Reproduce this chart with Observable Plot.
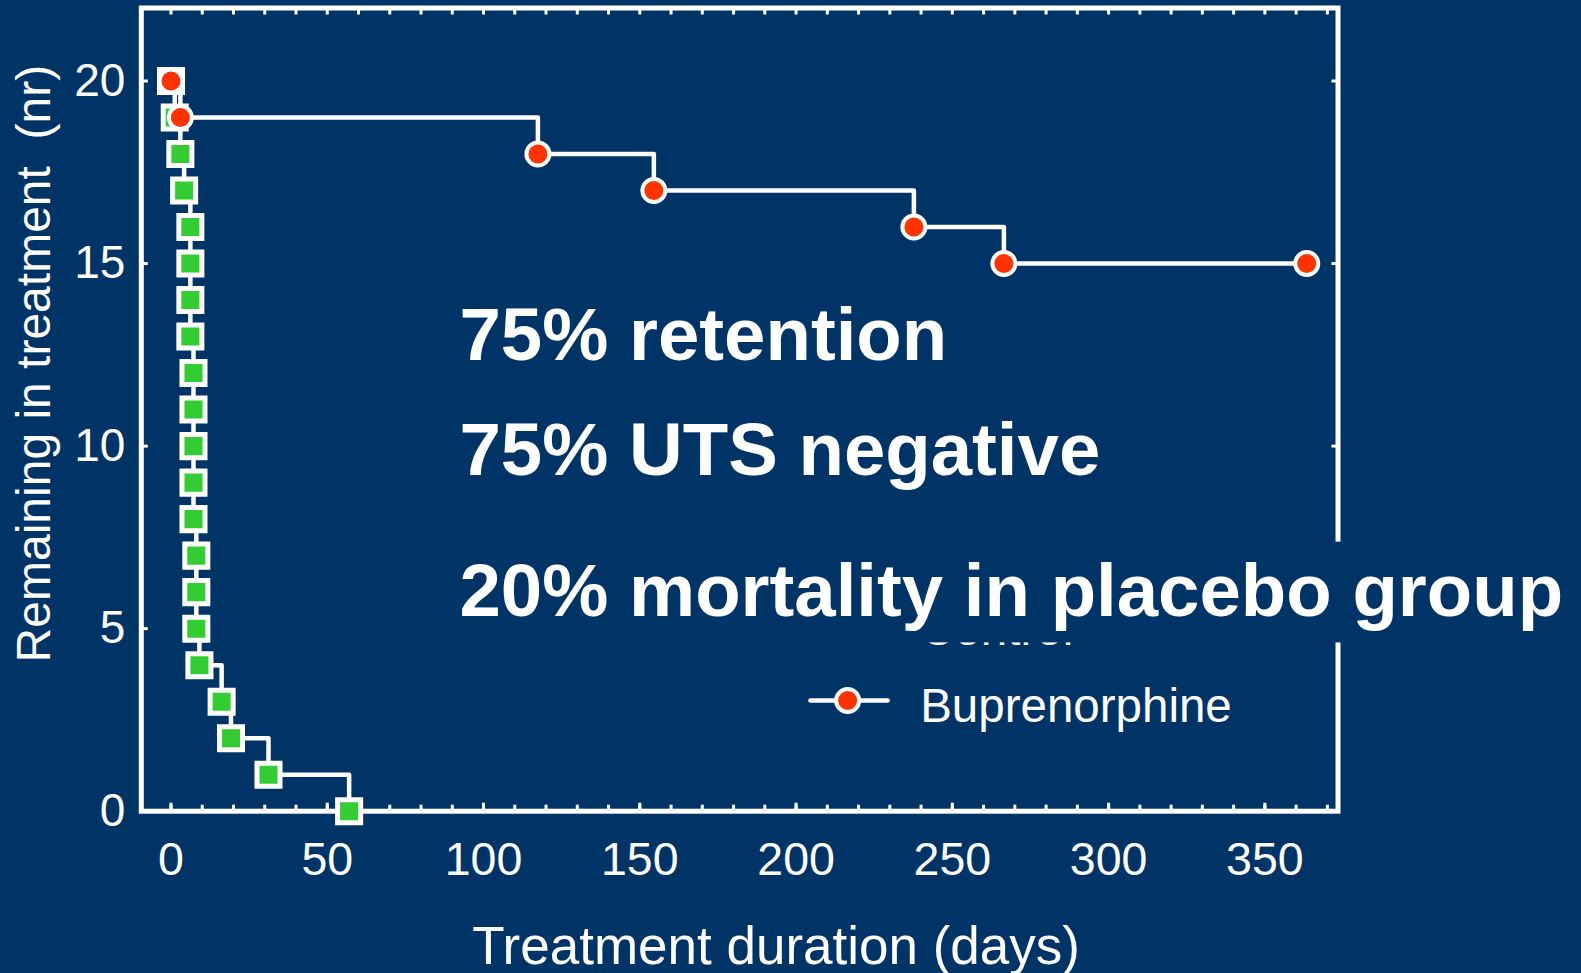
<!DOCTYPE html>
<html><head><meta charset="utf-8">
<script src="https://cdn.jsdelivr.net/npm/d3@7"></script>
<script src="https://cdn.jsdelivr.net/npm/@observablehq/plot@0.6"></script>
<style>
html,body{margin:0;padding:0;background:#003366;overflow:hidden;}
svg{display:block;}
</style></head><body><div id="chart"></div>
<script>
// ---- data ----
const controlDays = [0, 1.2, 3.0, 4.2, 6.2, 6.2, 6.2, 6.2, 7.2, 7.2, 7.2, 7.2, 7.2, 8.1, 8.1, 8.1, 9.1, 16.2, 19.2, 31.2, 57.0];
const controlN    = [20, 19, 18, 17, 16, 15, 14, 13, 12, 11, 10, 9, 8, 7, 6, 5, 4, 3, 2, 1, 0];
const bupDays = [0, 3.0, 117.4, 154.5, 237.7, 266.5, 363.4];
const bupN    = [20, 19, 18, 17, 16, 15, 15];
const xTicks = [0, 50, 100, 150, 200, 250, 300, 350];
const xMinorTicks = [0,10,20,30,40,50,60,70,80,90,100,110,120,130,140,150,160,170,180,190,200,210,220,230,240,250,260,270,280,290,300,310,320,330,340,350,360,370];
const yTicks = [0, 5, 10, 15, 20];
const seriesNames = ["Control", "Buprenorphine"];
const notes = ["75% retention", "75% UTS negative", "20% mortality in placebo group"];
const xTitle = "Treatment duration (days)";
const yTitle = "Remaining in treatment\u00a0 (nr)";

// ---- build tables ----
const control = controlDays.map((d, i) => ({day: d, n: controlN[i]}));
const bup = bupDays.map((d, i) => ({day: d, n: bupN[i]}));

const BG = "#003366", GREEN = "#33cc33", RED = "#ff3300";
const FONT = "'Liberation Sans', Arial, Helvetica, sans-serif";

// legend layout (in chart units)
const legX1 = 204.6, legX2 = 229.3, legMark = 216.5, legText = 239.7;
const legRowY = [5.14, 3.03], legTextY = [4.98, 2.87];
const legLines = seriesNames.flatMap((s, i) => [{s, x: legX1, y: legRowY[i]}, {s, x: legX2, y: legRowY[i]}]);
const legRows = seriesNames.map((s, i) => ({s, y: legRowY[i], ty: legTextY[i]}));
const noteY = [12.35, 9.22, 5.36];
const band = [{x1: 86, x2: 460, y1: 4.61, y2: 7.37}];

const chart = Plot.plot({
  width: 1581, height: 973,
  marginLeft: 140.8, marginRight: 1581 - 1337.5, marginTop: 7.5, marginBottom: 973 - 810.7,
  x: {domain: [-9.5, 373.4]},
  y: {domain: [0, 22]},
  style: {background: BG, color: "white", fontFamily: FONT, overflow: "visible"},
  marks: [
    // axes labels
    Plot.axisX(xTicks, {anchor: "bottom", tickSize: 0, tickPadding: 31, fontSize: 46.5, label: null}),
    Plot.axisY(yTicks, {anchor: "left", tickSize: 0, tickPadding: 16, fontSize: 46, label: null}),
    // inward ticks on all sides
    Plot.axisX(xTicks, {anchor: "bottom", tickSize: -8, strokeWidth: 3, tickFormat: () => "", label: null}),
    Plot.axisX(xMinorTicks, {anchor: "bottom", tickSize: -6, strokeWidth: 3, tickFormat: () => "", label: null}),
    Plot.axisX(xMinorTicks, {anchor: "top", tickSize: -6, strokeWidth: 3, tickFormat: () => "", label: null}),
    Plot.axisY(yTicks, {anchor: "left", tickSize: -7, strokeWidth: 3, tickFormat: () => "", label: null}),
    Plot.axisY(yTicks, {anchor: "right", tickSize: -7, strokeWidth: 3, tickFormat: () => "", label: null}),
    Plot.frame({stroke: "white", strokeWidth: 5}),
    // axis titles
    Plot.text([xTitle], {text: d => d, frameAnchor: "bottom", textAnchor: "middle", lineAnchor: "bottom", dy: 152.3, dx: 36.4, fontSize: 53, fill: "white"}),
    Plot.text([yTitle], {text: d => d, frameAnchor: "left", textAnchor: "middle", rotate: -90, lineAnchor: "middle", dx: -107, dy: -46, fontSize: 48, fill: "white"}),
    // control
    Plot.line(control, {x: "day", y: "n", curve: "step-after", stroke: "white", strokeWidth: 4.5}),
    Plot.dot(control, {x: "day", y: "n", symbol: "square", r: 13, fill: GREEN, stroke: "white", strokeWidth: 5}),
    // buprenorphine
    Plot.line(bup, {x: "day", y: "n", curve: "step-after", stroke: "white", strokeWidth: 4.5}),
    Plot.dot(bup, {x: "day", y: "n", r: 11.5, fill: RED, stroke: "white", strokeWidth: 4}),
    // legend
    Plot.line(legLines, {x: "x", y: "y", z: "s", stroke: "white", strokeWidth: 4.5}),
    Plot.dot(legRows.filter(d => d.s === "Control"), {x: () => legMark, y: "y", symbol: "square", r: 13, fill: GREEN, stroke: "white", strokeWidth: 5}),
    Plot.dot(legRows.filter(d => d.s === "Buprenorphine"), {x: () => legMark, y: "y", r: 11.5, fill: RED, stroke: "white", strokeWidth: 4}),
    Plot.text(legRows, {x: () => legText, y: "ty", text: "s", textAnchor: "start", lineAnchor: "middle", fontSize: 47.5, fill: "white"}),
    // background band behind the last note
    Plot.rect(band, {x1: "x1", x2: "x2", y1: "y1", y2: "y2", fill: BG}),
    // overlay notes
    Plot.text(notes, {x: () => 92.3, y: (d, i) => noteY[i], text: d => d, textAnchor: "start", lineAnchor: "bottom", fontSize: 74.4, fontWeight: "bold", fill: "white"})
  ]
});
document.getElementById("chart").appendChild(chart);
</script>
</body></html>
